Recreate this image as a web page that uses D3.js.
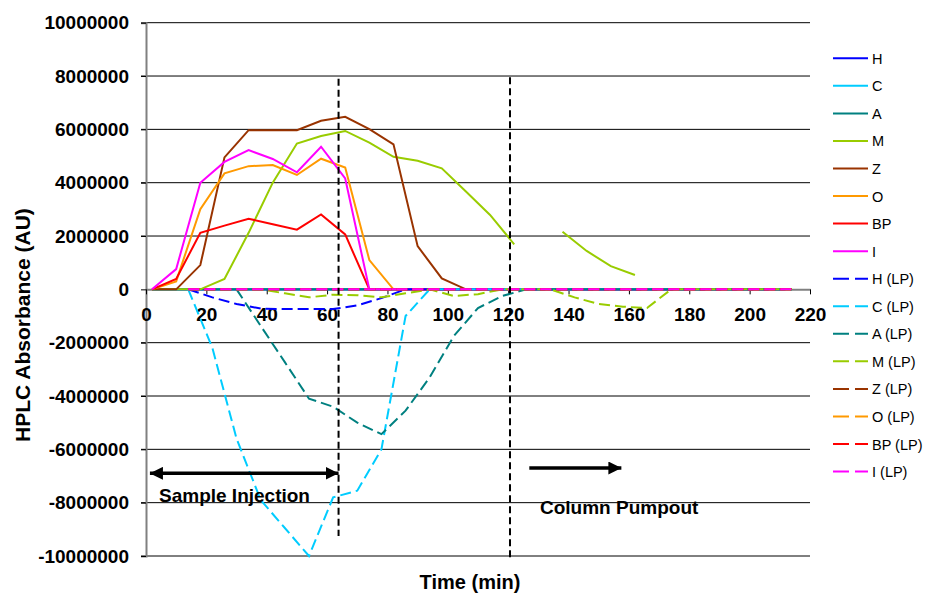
<!DOCTYPE html>
<html>
<head>
<meta charset="utf-8">
<script src="https://cdn.jsdelivr.net/npm/d3@7"></script>
<style>
  body { margin: 0; background: #fff; }
  svg { font-family: "Liberation Sans", Arial, sans-serif; }
</style>
</head>
<body>
<div id="chart"></div>
<script>
// sample times (min)
const timesMain = [2, 10, 18, 26, 34, 42, 50, 58, 66, 74, 82, 90, 98, 106, 114, 122, 130, 138, 146, 154, 162, 170, 178, 186, 194, 202, 210];
const timesLP = [14, 22, 30, 38, 46, 54, 62, 70, 78, 86, 94, 102, 110, 118, 126, 134, 142, 150, 158, 166, 174, 182, 190, 198, 206, 214];

// main series
const seriesH = [0, 0, 0, 0, 0, 0, 0, 0, 0, 0, 0, 0, 0, 0, 0, 0, 0, 0, 0, 0, 0, 0, 0, 0, 0, 0, 0];
const seriesC = [0, 0, 0, 0, 0, 0, 0, 0, 0, 0, 0, 0, 0, 0, 0, 0, 0, 0, 0, 0, 0, 0, 0, 0, 0, 0, 0];
const seriesA = [0, 0, 0, 0, 0, 0, 0, 0, 0, 0, 0, 0, 0, 0, 0, 0, 0, 0, 0, 0, 0, 0, 0, 0, 0, 0, 0];
const seriesM = [0, 0, 0, 390000, 2120000, 4000000, 5470000, 5750000, 5940000, 5500000, 4970000, 4820000, 4540000, 3670000, 2790000, 1690000, null, 2160000, 1440000, 870000, 540000, null, null, null, null, null, null];
const seriesZ = [0, 0, 910000, 4950000, 5970000, 5970000, 5970000, 6320000, 6470000, 6010000, 5440000, 1620000, 410000, 0, 0, 0, 0, 0, 0, 0, 0, 0, 0, 0, 0, 0, 0];
const seriesO = [0, 300000, 3010000, 4350000, 4620000, 4660000, 4290000, 4900000, 4570000, 1100000, 0, 0, 0, 0, 0, 0, 0, 0, 0, 0, 0, 0, 0, 0, 0, 0, 0];
const seriesBP = [0, 390000, 2120000, 2390000, 2650000, 2440000, 2240000, 2810000, 2060000, 0, 0, 0, 0, 0, 0, 0, 0, 0, 0, 0, 0, 0, 0, 0, 0, 0, 0];
const seriesI = [0, 760000, 4000000, 4780000, 5220000, 4890000, 4390000, 5350000, 4160000, 0, 0, 0, 0, 0, 0, 0, 0, 0, 0, 0, 0, 0, 0, 0, 0, 0, 0];

// LP series
const seriesHLP = [0, -300000, -550000, -720000, -740000, -740000, -740000, -600000, -330000, 0, 0, 0, 0, 0, 0, 0, 0, 0, 0, 0, 0, 0, 0, 0, 0, 0];
const seriesCLP = [0, -2200000, -5600000, -7900000, -8950000, -10000000, -7800000, -7550000, -6000000, -1000000, 0, 0, 0, 0, 0, 0, 0, 0, 0, 0, 0, 0, 0, 0, 0, 0];
const seriesALP = [0, 0, 0, -1370000, -2730000, -4100000, -4400000, -5000000, -5430000, -4550000, -3300000, -1750000, -700000, -250000, 0, 0, 0, 0, 0, 0, 0, 0, 0, 0, 0, 0];
const seriesMLP = [0, 0, 0, 0, -150000, -300000, -200000, -220000, -300000, -150000, 0, -250000, -180000, 0, 0, 0, -300000, -550000, -650000, -700000, 0, 0, 0, 0, 0, 0];
const seriesZLP = [0, 0, 0, 0, 0, 0, 0, 0, 0, 0, 0, 0, 0, 0, 0, 0, 0, 0, 0, 0, 0, 0, 0, 0, 0, 0];
const seriesOLP = [0, 0, 0, 0, 0, 0, 0, 0, 0, 0, 0, 0, 0, 0, 0, 0, 0, 0, 0, 0, 0, 0, 0, 0, 0, 0];
const seriesBPLP = [0, 0, 0, 0, 0, 0, 0, 0, 0, 0, 0, 0, 0, 0, 0, 0, 0, 0, 0, 0, 0, 0, 0, 0, 0, 0];
const seriesILP = [0, 0, 0, 0, 0, 0, 0, 0, 0, 0, 0, 0, 0, 0, 0, 0, 0, 0, 0, 0, 0, 0, 0, 0, 0, 0];

const seriesColors = ["#0000FF", "#00CCFF", "#008080", "#99CC00", "#993300", "#FF9900", "#FF0000", "#FF00FF"];

const xTicks = [0, 20, 40, 60, 80, 100, 120, 140, 160, 180, 200, 220];
const yTicks = [-10000000, -8000000, -6000000, -4000000, -2000000, 0, 2000000, 4000000, 6000000, 8000000, 10000000];

// annotation positions (min)
const injectionEnd = 63.8;
const pumpoutStart = 120.6;

const series = [
    { name: "H", t: timesMain, v: seriesH, dashed: false },
    { name: "C", t: timesMain, v: seriesC, dashed: false },
    { name: "A", t: timesMain, v: seriesA, dashed: false },
    { name: "M", t: timesMain, v: seriesM, dashed: false },
    { name: "Z", t: timesMain, v: seriesZ, dashed: false },
    { name: "O", t: timesMain, v: seriesO, dashed: false },
    { name: "BP", t: timesMain, v: seriesBP, dashed: false },
    { name: "I", t: timesMain, v: seriesI, dashed: false },
    { name: "H (LP)", t: timesLP, v: seriesHLP, dashed: true },
    { name: "C (LP)", t: timesLP, v: seriesCLP, dashed: true },
    { name: "A (LP)", t: timesLP, v: seriesALP, dashed: true },
    { name: "M (LP)", t: timesLP, v: seriesMLP, dashed: true },
    { name: "Z (LP)", t: timesLP, v: seriesZLP, dashed: true },
    { name: "O (LP)", t: timesLP, v: seriesOLP, dashed: true },
    { name: "BP (LP)", t: timesLP, v: seriesBPLP, dashed: true },
    { name: "I (LP)", t: timesLP, v: seriesILP, dashed: true }
];
series.forEach(function(s, i) { s.color = seriesColors[i % 8]; });

const width = 925;
const height = 597;

const svg = d3.select("#chart").append("svg")
    .attr("width", width)
    .attr("height", height);

const x = d3.scaleLinear().domain([0, 220]).range([146, 810]);
const y = d3.scaleLinear().domain([-10000000, 10000000]).range([556, 22.7]);

// gridlines
svg.append("g")
    .selectAll("line")
    .data(yTicks.filter(d => d !== 0))
    .join("line")
    .attr("x1", 141).attr("x2", x(220))
    .attr("y1", d => y(d)).attr("y2", d => y(d))
    .attr("stroke", "#000")
    .attr("stroke-width", 1);

// y axis (plain hyphen for negatives, like the original)
const yAxis = svg.append("g")
    .attr("transform", "translate(" + x(0) + ",0)")
    .call(d3.axisLeft(y).tickValues(yTicks).tickSize(5).tickPadding(12).tickFormat(d => String(d)));
yAxis.select(".domain").attr("stroke", "#808080").attr("stroke-width", 2);
yAxis.selectAll(".tick line").attr("stroke", "#000");
yAxis.selectAll("text")
    .attr("font-size", 19).attr("font-weight", "bold")
    .attr("font-family", "'Liberation Sans', Arial, sans-serif")
    .attr("fill", "#000");

// x axis on zero line
const xAxis = svg.append("g")
    .attr("transform", "translate(0," + y(0) + ")")
    .call(d3.axisBottom(x).tickValues(xTicks).tickSize(5).tickPadding(13).tickSizeOuter(0));
xAxis.select(".domain").attr("stroke", "#808080").attr("stroke-width", 2);
xAxis.selectAll(".tick line").attr("stroke", "#000");
xAxis.selectAll("text")
    .attr("font-size", 19).attr("font-weight", "bold")
    .attr("font-family", "'Liberation Sans', Arial, sans-serif")
    .attr("fill", "#000");

// series lines
const line = d3.line()
    .defined(d => d[1] !== null)
    .x(d => x(d[0]))
    .y(d => y(d[1]));

svg.append("g")
    .selectAll("path")
    .data(series)
    .join("path")
    .attr("d", s => line(s.t.map((t, i) => [t, s.v[i]])))
    .attr("fill", "none")
    .attr("stroke", s => s.color)
    .attr("stroke-width", 2)
    .attr("stroke-dasharray", s => s.dashed ? "11,5" : null);

// vertical markers
svg.append("line")
    .attr("x1", x(injectionEnd)).attr("x2", x(injectionEnd))
    .attr("y1", y(7900000)).attr("y2", y(-9250000))
    .attr("stroke", "#000").attr("stroke-width", 2).attr("stroke-dasharray", "7,4");
svg.append("line")
    .attr("x1", x(pumpoutStart)).attr("x2", x(pumpoutStart))
    .attr("y1", y(7950000)).attr("y2", y(-10150000))
    .attr("stroke", "#000").attr("stroke-width", 2).attr("stroke-dasharray", "7,4");

// arrows
const defs = svg.append("defs");
defs.append("marker")
    .attr("id", "arrow-end")
    .attr("markerUnits", "userSpaceOnUse")
    .attr("viewBox", "0 0 12 12")
    .attr("markerWidth", 13).attr("markerHeight", 13)
    .attr("refX", 12).attr("refY", 6)
    .attr("orient", "auto")
    .append("path").attr("d", "M0,0 L12,6 L0,12 Z").attr("fill", "#000");
defs.append("marker")
    .attr("id", "arrow-start")
    .attr("markerUnits", "userSpaceOnUse")
    .attr("viewBox", "0 0 12 12")
    .attr("markerWidth", 13).attr("markerHeight", 13)
    .attr("refX", 0).attr("refY", 6)
    .attr("orient", "auto")
    .append("path").attr("d", "M12,0 L0,6 L12,12 Z").attr("fill", "#000");

svg.append("line")
    .attr("x1", x(1.3)).attr("x2", x(injectionEnd))
    .attr("y1", y(-6900000)).attr("y2", y(-6900000))
    .attr("stroke", "#000").attr("stroke-width", 3.5)
    .attr("marker-start", "url(#arrow-start)")
    .attr("marker-end", "url(#arrow-end)");

svg.append("line")
    .attr("x1", x(127)).attr("x2", x(157.5))
    .attr("y1", y(-6700000)).attr("y2", y(-6700000))
    .attr("stroke", "#000").attr("stroke-width", 3.5)
    .attr("marker-end", "url(#arrow-end)");

svg.append("text")
    .attr("x", 159).attr("y", 502)
    .attr("font-size", 19).attr("font-weight", "bold")
    .text("Sample Injection");

svg.append("text")
    .attr("x", 540).attr("y", 514)
    .attr("font-size", 19).attr("font-weight", "bold")
    .text("Column Pumpout");

// axis titles
svg.append("text")
    .attr("transform", "translate(30,325) rotate(-90)")
    .attr("text-anchor", "middle")
    .attr("font-size", 21).attr("font-weight", "bold")
    .text("HPLC Absorbance (AU)");

svg.append("text")
    .attr("x", 470).attr("y", 589)
    .attr("text-anchor", "middle")
    .attr("font-size", 20).attr("font-weight", "bold")
    .text("Time (min)");

// legend
const legend = svg.append("g")
    .selectAll("g")
    .data(series)
    .join("g")
    .attr("transform", (s, i) => "translate(833," + (58.3 + i * 27.55) + ")");

legend.append("line")
    .attr("x1", 0).attr("x2", 35)
    .attr("stroke", s => s.color)
    .attr("stroke-width", 2)
    .attr("stroke-dasharray", s => s.dashed ? "16,6" : null);

legend.append("text")
    .attr("x", 39).attr("y", 5.5)
    .attr("font-size", 14.5)
    .text(s => s.name);
</script>
</body>
</html>
